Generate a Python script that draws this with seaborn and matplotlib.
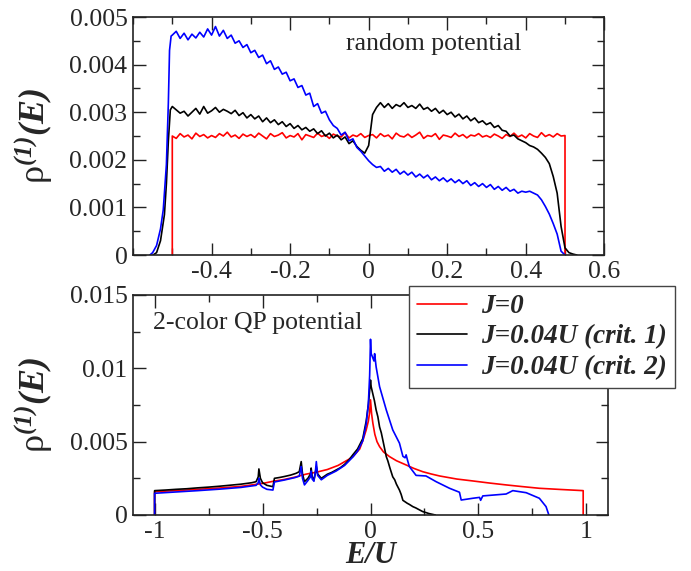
import numpy as np
import pandas as pd
import matplotlib
import matplotlib.pyplot as plt
import seaborn as sns
from matplotlib.lines import Line2D
from matplotlib.ticker import MultipleLocator, FormatStrFormatter
from matplotlib.font_manager import FontProperties

# ---------------- data (rho in units of 1e-3) ----------------
LABELS = ["J=0", "J=0.04U (crit. 1)", "J=0.04U (crit. 2)"]
COLORS = ["#ff0000", "#000000", "#0000ff"]

# top panel: random potential, sampled every 0.01 in E/U from -0.5 to 0.5
E_GRID = [round(-0.5 + 0.01 * i, 2) for i in range(101)]

red_top = [
    2.50, 2.45, 2.55, 2.48, 2.52, 2.44, 2.56, 2.49, 2.53, 2.46,
    2.51, 2.47, 2.55, 2.50, 2.58, 2.48, 2.52, 2.45, 2.54, 2.49,
    2.53, 2.47, 2.56, 2.50, 2.44, 2.55, 2.49, 2.52, 2.57, 2.46,
    2.51, 2.48, 2.55, 2.42, 2.53, 2.50, 2.47, 2.56, 2.49, 2.52,
    2.45, 2.54, 2.50, 2.48, 2.57, 2.46, 2.52, 2.49, 2.55, 2.47,
    2.51, 2.53, 2.46, 2.55, 2.49, 2.52, 2.44, 2.56, 2.50, 2.48,
    2.54, 2.47, 2.52, 2.58, 2.45, 2.51, 2.49, 2.55, 2.43, 2.52,
    2.50, 2.47, 2.56, 2.49, 2.53, 2.46, 2.52, 2.50, 2.55, 2.48,
    2.51, 2.47, 2.54, 2.50, 2.45, 2.53, 2.49, 2.56, 2.48, 2.52,
    2.46, 2.55, 2.50, 2.47, 2.57, 2.49, 2.53, 2.48, 2.55, 2.50, 2.51,
]
black_top_pre_E = [-0.549, -0.54, -0.53, -0.52, -0.515, -0.51, -0.505]
black_top_pre = [0.0, 0.05, 0.30, 0.85, 1.50, 2.40, 3.05]
black_top = [
    3.12, 3.05, 2.98, 3.02, 2.92, 3.00, 3.08, 2.96, 3.12, 2.98,
    3.03, 3.10, 3.00, 3.06, 3.02, 2.97, 3.04, 2.93, 2.99, 2.88,
    2.95, 2.86, 2.92, 2.80, 2.88, 2.78, 2.84, 2.74, 2.80, 2.70,
    2.76, 2.66, 2.72, 2.63, 2.68, 2.60, 2.65, 2.55, 2.61, 2.50,
    2.56, 2.46, 2.52, 2.42, 2.48, 2.34, 2.40, 2.28, 2.20, 2.14,
    2.30, 2.95, 3.10, 3.20, 3.10, 3.18, 3.08, 3.16, 3.12, 3.20,
    3.10, 3.14, 3.08, 3.17, 3.06, 3.10, 3.02, 3.08, 2.98, 3.04,
    2.95, 3.00, 2.90, 2.96, 2.86, 2.92, 2.82, 2.88, 2.78, 2.82,
    2.74, 2.78, 2.68, 2.72, 2.62, 2.60, 2.50, 2.52, 2.44, 2.40,
    2.36, 2.30, 2.27, 2.22, 2.14, 2.05, 1.92, 1.65, 1.30, 0.60, 0.15,
]
black_top_tail_E = [0.51, 0.52, 0.53]
black_top_tail = [0.05, 0.02, 0.0]
blue_top_pre_E = [-0.557, -0.55, -0.54, -0.53, -0.523, -0.515, -0.51, -0.507, -0.503]
blue_top_pre = [0.0, 0.05, 0.20, 0.55, 0.95, 1.90, 3.20, 4.30, 4.60]
blue_top = [
    4.62, 4.70, 4.55, 4.66, 4.52, 4.64, 4.56, 4.68, 4.58, 4.75,
    4.62, 4.80, 4.60, 4.72, 4.55, 4.62, 4.45, 4.50, 4.36, 4.42,
    4.25, 4.30, 4.15, 4.20, 4.02, 4.08, 3.90, 3.95, 3.80, 3.84,
    3.66, 3.70, 3.52, 3.56, 3.36, 3.40, 3.12, 3.18, 2.98, 3.02,
    2.84, 2.72, 2.66, 2.52, 2.58, 2.40, 2.44, 2.26, 2.18, 2.08,
    1.98, 1.90, 1.84, 1.86, 1.76, 1.82, 1.74, 1.80, 1.70, 1.76,
    1.68, 1.74, 1.64, 1.70, 1.62, 1.68, 1.58, 1.64, 1.56, 1.62,
    1.54, 1.60, 1.52, 1.58, 1.50, 1.56, 1.46, 1.52, 1.44, 1.50,
    1.42, 1.48, 1.38, 1.44, 1.36, 1.42, 1.34, 1.38, 1.30, 1.34,
    1.32, 1.34, 1.30, 1.26, 1.16, 1.02, 0.86, 0.66, 0.44, 0.08, 0.0,
]

# bottom panel: 2-color quasi-periodic potential
red_bot_E = [-1.0, -1.0, -0.9, -0.8, -0.7, -0.6, -0.5, -0.45, -0.4, -0.35,
             -0.3, -0.25, -0.2, -0.15, -0.1, -0.08, -0.05, -0.035, -0.02, -0.01,
             -0.004, 0.0, 0.005, 0.011, 0.02, 0.03, 0.042, 0.06, 0.088, 0.12,
             0.165, 0.2, 0.242, 0.28, 0.32, 0.4, 0.474, 0.55, 0.628, 0.7,
             0.782, 0.88, 0.985, 0.985]
red_bot = [0.0, 1.59, 1.66, 1.75, 1.84, 1.95, 2.15, 2.30, 2.42, 2.58,
           2.78, 2.92, 3.10, 3.38, 3.80, 4.00, 4.50, 5.10, 5.80, 6.40,
           7.00, 7.85, 6.90, 6.25, 5.50, 5.00, 4.66, 4.30, 3.98, 3.70,
           3.41, 3.18, 2.95, 2.80, 2.66, 2.45, 2.32, 2.18, 2.05, 1.94,
           1.82, 1.74, 1.66, 0.0]
black_bot_E = [-1.0, -1.0, -0.95, -0.9, -0.85, -0.8, -0.75, -0.7, -0.65, -0.6,
               -0.55, -0.53, -0.52, -0.517, -0.51, -0.5, -0.48, -0.452, -0.445, -0.42,
               -0.4, -0.37, -0.345, -0.33, -0.321, -0.315, -0.306, -0.29, -0.278, -0.275,
               -0.27, -0.262, -0.255, -0.251, -0.245, -0.228, -0.2, -0.18, -0.159, -0.14,
               -0.12, -0.1, -0.082, -0.06, -0.036, -0.02, -0.01, -0.004, 0.0, 0.003,
               0.01, 0.018, 0.026, 0.034, 0.042, 0.05, 0.06, 0.073, 0.08, 0.09,
               0.103, 0.112, 0.12, 0.134, 0.142, 0.15, 0.16, 0.17, 0.18, 0.196,
               0.21, 0.22, 0.242, 0.26, 0.27, 0.3]
black_bot = [0.0, 1.66, 1.70, 1.75, 1.79, 1.85, 1.90, 1.96, 2.03, 2.10,
             2.20, 2.27, 2.60, 3.14, 2.50, 2.20, 2.02, 1.93, 2.50, 2.56,
             2.62, 2.72, 2.84, 2.95, 3.64, 2.80, 2.27, 2.50, 2.80, 3.20,
             2.60, 2.40, 2.90, 3.30, 2.80, 2.50, 2.78, 2.90, 3.07, 3.22,
             3.45, 3.75, 4.10, 4.50, 5.20, 6.40, 7.50, 8.50, 9.20, 8.75,
             8.30, 7.80, 7.16, 6.70, 6.00, 5.60, 4.90, 3.98, 3.70, 3.20,
             2.60, 2.40, 2.10, 1.70, 1.40, 1.00, 0.90, 0.80, 0.72, 0.57,
             0.48, 0.40, 0.23, 0.15, 0.10, 0.0]
blue_bot_E = [-1.0, -1.0, -0.9, -0.8, -0.7, -0.6, -0.53, -0.52, -0.517, -0.51,
              -0.5, -0.48, -0.452, -0.445, -0.4, -0.35, -0.33, -0.325, -0.321, -0.315,
              -0.306, -0.29, -0.278, -0.275, -0.27, -0.262, -0.255, -0.251, -0.245, -0.228,
              -0.2, -0.159, -0.12, -0.082, -0.06, -0.036, -0.02, -0.01, -0.004, 0.0,
              0.003, 0.011, 0.016, 0.019, 0.026, 0.042, 0.073, 0.103, 0.134, 0.15,
              0.16, 0.165, 0.172, 0.18, 0.211, 0.257, 0.304, 0.366, 0.412, 0.42,
              0.474, 0.505, 0.51, 0.52, 0.628, 0.659, 0.721, 0.782, 0.813, 0.826]
blue_bot = [0.0, 1.48, 1.57, 1.66, 1.76, 1.88, 2.02, 2.20, 2.50, 2.05,
            1.90, 1.75, 1.70, 2.25, 2.38, 2.55, 2.65, 3.00, 3.30, 2.50,
            2.05, 2.35, 2.60, 3.00, 2.45, 2.30, 3.00, 3.64, 2.70, 2.40,
            2.70, 3.00, 3.38, 3.95, 4.35, 5.05, 6.20, 7.60, 9.50, 11.98,
            11.00, 10.70, 10.50, 11.00, 10.10, 8.75, 7.16, 5.80, 4.90, 4.00,
            3.90, 4.10, 3.70, 3.30, 2.70, 2.66, 2.27, 1.82, 1.55, 1.02,
            1.14, 1.20, 1.00, 1.30, 1.43, 1.66, 1.52, 1.14, 0.57, 0.0]


def make_frame(curves):
    parts = []
    for label, (E, rho) in zip(LABELS, curves):
        parts.append(pd.DataFrame({"E": E, "rho": np.asarray(rho) * 1e-3, "curve": label}))
    return pd.concat(parts, ignore_index=True)


def style_axis(ax, xmaj, xmin, ymaj, ymin):
    ax.xaxis.set_major_locator(MultipleLocator(xmaj))
    ax.xaxis.set_minor_locator(MultipleLocator(xmin))
    ax.yaxis.set_major_locator(MultipleLocator(ymaj))
    ax.yaxis.set_minor_locator(MultipleLocator(ymin))
    ax.xaxis.set_major_formatter(FormatStrFormatter("%g"))
    ax.yaxis.set_major_formatter(FormatStrFormatter("%g"))
    ax.tick_params(which="both", direction="in", top=True, right=True,
                   width=1.0, color="#222222", labelsize=18.5)
    ax.tick_params(which="major", length=9, pad=4)
    ax.tick_params(which="minor", length=5)
    for sp in ax.spines.values():
        sp.set_linewidth(1.2)
        sp.set_color("#222222")


def main():
    sns.set_style("ticks")
    plt.rcParams["font.family"] = ["Liberation Serif", "DejaVu Serif"]
    plt.rcParams["mathtext.fontset"] = "custom"
    plt.rcParams["mathtext.rm"] = "Liberation Serif"
    plt.rcParams["mathtext.it"] = "Liberation Serif:italic"
    plt.rcParams["mathtext.bf"] = "Liberation Serif:bold"
    plt.rcParams["mathtext.bfit"] = "Liberation Serif:italic:bold"

    fig = plt.figure(figsize=(6.91, 5.71), dpi=100)
    ax_top = fig.add_axes([0.1925, 0.5534, 0.682, 0.4168])
    ax_bot = fig.add_axes([0.1925, 0.0981, 0.6874, 0.3853])
    palette = dict(zip(LABELS, COLORS))

    top = make_frame([
        ([-0.5] + E_GRID + [0.5], [0.0] + red_top + [0.0]),
        (black_top_pre_E + E_GRID + black_top_tail_E, black_top_pre + black_top + black_top_tail),
        (blue_top_pre_E + E_GRID, blue_top_pre + blue_top),
    ])
    bot = make_frame([
        (red_bot_E, red_bot),
        (black_bot_E, black_bot),
        (blue_bot_E, blue_bot),
    ])

    for ax, df in [(ax_top, top), (ax_bot, bot)]:
        sns.lineplot(data=df, x="E", y="rho", hue="curve", palette=palette,
                     sort=False, estimator=None, linewidth=1.2, legend=False, ax=ax)

    ax_top.set_xlim(-0.6, 0.6)
    ax_top.set_ylim(0, 0.005)
    style_axis(ax_top, 0.2, 0.1, 0.001, 0.0005)
    ax_top.set_xticks([-0.4, -0.2, 0, 0.2, 0.4, 0.6])

    ax_bot.set_xlim(-1.1, 1.1)
    ax_bot.set_ylim(0, 0.015)
    style_axis(ax_bot, 0.5, 0.25, 0.005, 0.0025)

    ylab = r"$\mathrm{\rho}^{\mathbfit{(1)}}\mathbfit{(E)}$"
    for ax in (ax_top, ax_bot):
        ax.set_ylabel(ylab, fontsize=26)
        ax.yaxis.set_label_coords(-0.165, 0.5)
    ax_top.set_xlabel("")
    ax_bot.set_xlabel("E/U", fontsize=22, fontweight="bold", fontstyle="italic")
    ax_bot.xaxis.set_label_coords(0.5, -0.118)

    ax_top.text(0.452, 0.887, "random potential", transform=ax_top.transAxes,
                fontsize=18.5, va="center", ha="left")
    ax_bot.text(0.042, 0.873, "2-color QP potential", transform=ax_bot.transAxes,
                fontsize=18.5, va="center", ha="left")

    handles = [Line2D([], [], color=c, lw=1.2) for c in COLORS]
    leg = ax_bot.legend(handles, LABELS, loc="upper left",
                        bbox_to_anchor=(409 / 691, 1 - 286 / 571),
                        bbox_transform=fig.transFigure, borderaxespad=0,
                        fancybox=False, edgecolor="#444444", framealpha=1,
                        prop=FontProperties(family="Liberation Serif", weight="bold",
                                            style="italic", size=19.5),
                        handlelength=1.85, handletextpad=0.5, borderpad=0.3,
                        labelspacing=0.2)
    leg.get_frame().set_linewidth(1.0)
    leg.set_zorder(10)

    fig.savefig("out.png", dpi=100)


if __name__ == "__main__":
    main()
